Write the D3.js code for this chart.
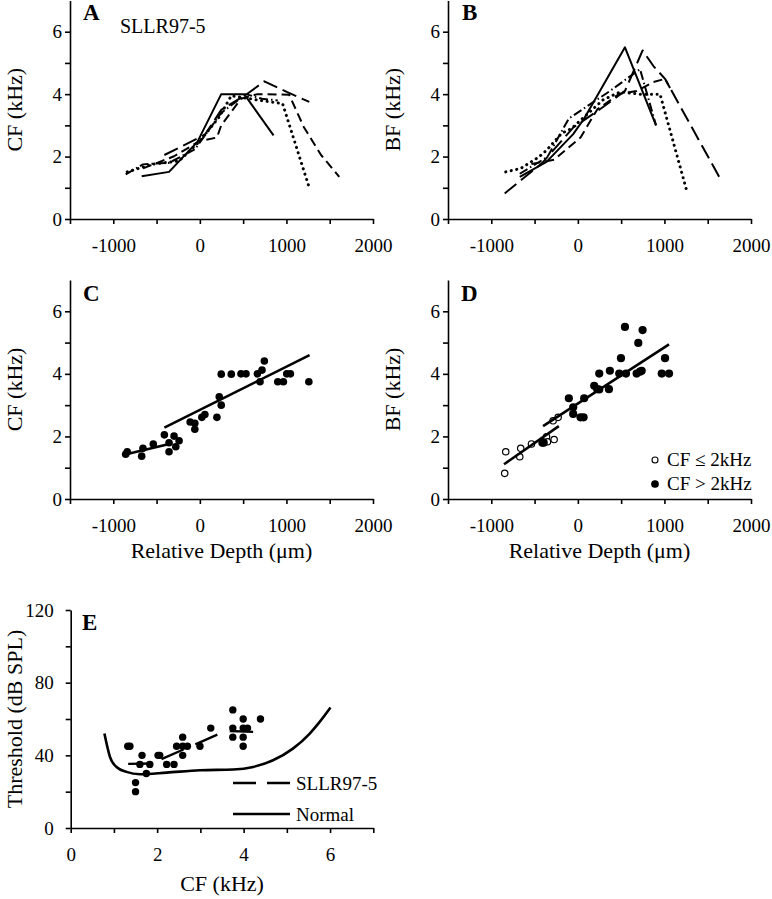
<!DOCTYPE html>
<html><head><meta charset="utf-8">
<script src="https://cdn.jsdelivr.net/npm/d3@7"></script>
<style>
body{margin:0;background:#fff}
svg text{font-family:"Liberation Serif","Times New Roman",serif;fill:#000}
</style>
</head><body>
<svg id="chart" width="772" height="899"></svg>
<script>
// ---------------- DATA ----------------
const depthTicks = [-1500,-1000,-500,0,500,1000,1500,2000];
const depthLabels = [-1000,0,1000,2000];
const freqTicks = [0,1,2,3,4,5,6];
const freqLabels = [0,2,4,6];
const cfTicksE = [0,1,2,3,4,5,6,7];
const cfLabelsE = [0,2,4,6];
const thrTicksE = [0,20,40,60,80,100,120];
const thrLabelsE = [0,40,80,120];

// Panel A: CF vs relative depth, one line per penetration
const penA_solid   = [[-672,1.37],[-356,1.51],[-28,2.47],[247,4.0],[512,4.0],[851,2.68]];
const penA_dashL   = [[-410,2.05],[-112,2.46],[58,2.70],[247,3.5],[532,3.98],[745,4.41],[1004,4.07],[1264,3.75]];
const penA_dashM   = [[-657,1.62],[-298,2.01],[0,2.5],[197,2.61],[247,3.0],[475,3.85],[664,4.0],[1032,3.98],[1200,2.95],[1400,2.05],[1610,1.35]];
const penA_dot     = [[-839,1.51],[-538,1.76],[-240,1.86],[0,2.5],[224,3.27],[363,3.95],[695,3.8],[955,3.7],[1264,1.0]];
const penA_dashDot = [[-857,1.43],[-657,1.75],[-356,1.8],[-58,2.23],[247,3.4],[533,4.0],[718,3.85],[900,3.8]];

// Panel B: BF vs relative depth
const penB_solid   = [[-671,1.35],[-362,1.83],[-54,2.72],[73,3.22],[544,5.5],[903,3.0]];
const penB_dashL   = [[-845,0.82],[-633,1.3],[-410,1.8],[-54,2.93],[247,3.5],[544,4.1],[748,5.4],[873,4.9],[1007,4.49],[1663,1.2]];
const penB_dashM   = [[-536,1.76],[-274,1.9],[31,2.61],[224,3.51],[478,4.01],[679,4.1],[873,4.39],[1007,4.49],[1065,4.2]];
const penB_dot     = [[-833,1.51],[-660,1.62],[-448,1.99],[-362,2.2],[-189,2.74],[-73,2.9],[293,3.82],[486,4.07],[718,4.0],[949,4.0],[1258,0.9]];
const penB_dashDot = [[-671,1.45],[-351,1.99],[-104,3.22],[370,4.1],[718,4.8],[903,3.0]];

// Panel C: CF vs depth (all units)
const depthC = [-857,-839,-672,-657,-538,-410,-356,-356,-298,-278,-240,-112,-58,-58,23,58,197,224,247,247,363,475,533,664,695,718,745,900,965,1004,1046,1259];
const cfC    = [1.43,1.51,1.37,1.62,1.76,2.05,1.51,1.80,2.01,1.67,1.86,2.46,2.42,2.23,2.61,2.70,2.61,3.27,3.0,3.99,3.99,4.0,4.0,4.0,3.75,4.12,4.41,3.75,3.75,4.0,4.0,3.75];
const fitC_low  = [[-839,1.44],[-317,1.78]];
const fitC_high = [[-410,2.28],[1267,4.6]];

// Panel D: BF vs depth, split by CF
const depthD_low = [-845,-833,-660,-671,-536,-362,-351,-274,-286,-228];
const bfD_low    = [0.82,1.51,1.62,1.35,1.76,1.99,1.83,1.9,2.5,2.61];
const depthD_high = [-410,-395,-104,-54,-54,31,66,73,189,224,247,247,359,370,498,478,556,544,698,679,718,737,748,1007,969,1053];
const bfD_high    = [1.8,1.8,3.22,2.93,2.72,2.61,2.61,3.22,3.62,3.51,4.01,3.5,3.51,4.1,4.5,4.01,4.01,5.5,4.99,4.01,4.07,4.1,5.4,4.5,4.01,4.01];
const fitD_low  = [[-853,1.11],[-220,2.33]];
const fitD_high = [[-402,2.33],[1053,4.94]];
const legendD = ["CF \u2264 2kHz","CF > 2kHz"];

// Panel E: threshold vs CF
const cfE  = [1.32,1.37,1.5,1.5,1.65,1.6,1.83,1.75,2.02,2.06,2.22,2.39,2.59,2.59,2.59,2.45,2.7,2.99,3.24,3.75,3.75,3.75,3.99,3.99,3.99,3.99,4.09,4.39];
const thrE = [45,45,25,20,40,35,35,30,40,40,35,35,50,45,40,45,45,45,55,65,55,50,60,55,50,45,55,60];
const fitE_segments = [[[1.33,35.3],[1.91,35.5]],[[2.1,37.9],[3.45,52]],[[3.68,53.4],[4.22,52.9]]];
const normalCF  = [0.78,0.91,1.06,1.29,1.6,2.22,2.99,3.76,4.22,4.68,5.14,5.53,5.76,6.01];
const normalThr = [52,39,33.6,30.9,29.6,30.5,31.8,32.2,33.6,37.3,43.7,52,58.4,66.3];
const legendE = ["SLLR97-5","Normal"];

// ---------------- DRAW ----------------
const svg = d3.select("#chart");
const FONT = '"Liberation Serif","Times New Roman",serif';

function panel(cfg){
  const x = d3.scaleLinear(cfg.xDom, [cfg.left, cfg.right]);
  const y = d3.scaleLinear(cfg.yDom, [cfg.bottom, cfg.top]);
  const g = svg.append("g");
  const ax = d3.axisBottom(x).tickValues(cfg.xTicks).tickSize(5).tickPadding(15).tickSizeOuter(0)
    .tickFormat(d => cfg.xLabels.includes(d) ? String(d) : "");
  const ay = d3.axisLeft(y).tickValues(cfg.yTicks).tickSize(5).tickPadding(cfg.yPad).tickSizeOuter(0)
    .tickFormat(d => cfg.yLabels.includes(d) ? String(d) : "");
  const gx = g.append("g").attr("transform",`translate(0,${cfg.bottom})`).call(ax);
  const gy = g.append("g").attr("transform",`translate(${cfg.left},0)`).call(ay);
  [gx,gy].forEach(a=>{
    a.attr("font-family",FONT).attr("font-size",19);
    a.selectAll("path,line").attr("stroke","#000").attr("stroke-width",1.6);
  });
  if(cfg.yTitle){
    g.append("text").attr("transform",`translate(${cfg.yTitleX},${(cfg.top+cfg.bottom)/2}) rotate(-90)`)
      .attr("text-anchor","middle").attr("font-size",22).text(cfg.yTitle);
  }
  if(cfg.xTitle){
    g.append("text").attr("x",(cfg.left+cfg.right)/2).attr("y",cfg.xTitleY)
      .attr("text-anchor","middle").attr("font-size",22).text(cfg.xTitle);
  }
  g.append("text").attr("x",cfg.letterX).attr("y",cfg.letterY).attr("font-weight","bold")
    .attr("font-size",23).text(cfg.letter);
  return {x,y,g};
}

const depthCfg = {xDom:[-1500,2000], yDom:[0,7], xTicks:depthTicks, xLabels:depthLabels, yTicks:freqTicks, yLabels:freqLabels, yPad:3};

const A = panel({...depthCfg, left:70, right:373, top:0.5, bottom:219, yTitle:"CF (kHz)", yTitleX:22, letter:"A", letterX:83, letterY:20});
const B = panel({...depthCfg, left:448, right:751, top:0.5, bottom:219, yTitle:"BF (kHz)", yTitleX:400, letter:"B", letterX:462, letterY:20});
const C = panel({...depthCfg, left:70, right:373, top:280, bottom:499, yTitle:"CF (kHz)", yTitleX:22, xTitle:"Relative Depth (\u03bcm)", xTitleY:558, letter:"C", letterX:83, letterY:301});
const D = panel({...depthCfg, left:448, right:751, top:280, bottom:499, yTitle:"BF (kHz)", yTitleX:400, xTitle:"Relative Depth (\u03bcm)", xTitleY:558, letter:"D", letterX:461, letterY:301});
const E = panel({xDom:[0,7], yDom:[0,120], xTicks:cfTicksE, xLabels:cfLabelsE, yTicks:thrTicksE, yLabels:thrLabelsE, yPad:12,
  left:70.7, right:373.3, top:610, bottom:828, yTitle:"Threshold (dB SPL)", yTitleX:22, xTitle:"CF (kHz)", xTitleY:891, letter:"E", letterX:82, letterY:630});

A.g.append("text").attr("x",120).attr("y",33).attr("font-size",20).text("SLLR97-5");

const styles = {
  solid:{dash:null, w:2, cap:"butt"},
  dashL:{dash:"15,6", w:2, cap:"butt"},
  dashM:{dash:"9,5", w:2, cap:"butt"},
  dot:{dash:"0.1,5.5", w:3, cap:"round"},
  dashDot:{dash:"9,3,1.5,3", w:2, cap:"butt"}
};
function drawLine(P, pts, st, curve){
  const line = d3.line().x(d=>P.x(d[0])).y(d=>P.y(d[1]));
  if(curve) line.curve(curve);
  P.g.append("path").datum(pts).attr("d",line).attr("fill","none").attr("stroke","#000")
    .attr("stroke-width",st.w).attr("stroke-linecap",st.cap).attr("stroke-linejoin","round")
    .attr("stroke-dasharray",st.dash);
}
drawLine(A, penA_solid, styles.solid);
drawLine(A, penA_dashL, styles.dashL);
drawLine(A, penA_dashM, styles.dashM);
drawLine(A, penA_dot, styles.dot);
drawLine(A, penA_dashDot, styles.dashDot);

drawLine(B, penB_solid, styles.solid);
drawLine(B, penB_dashL, styles.dashL);
drawLine(B, penB_dashM, styles.dashM);
drawLine(B, penB_dot, styles.dot);
drawLine(B, penB_dashDot, styles.dashDot);

// Panel C
C.g.selectAll("circle.c").data(d3.zip(depthC,cfC)).join("circle")
  .attr("cx",d=>C.x(d[0])).attr("cy",d=>C.y(d[1])).attr("r",3.8).attr("fill","#000");
const fitStyle = {dash:null, w:2.6, cap:"butt"};
drawLine(C, fitC_low, fitStyle);
drawLine(C, fitC_high, fitStyle);

// Panel D
D.g.selectAll("circle.lo").data(d3.zip(depthD_low,bfD_low)).join("circle")
  .attr("cx",d=>D.x(d[0])).attr("cy",d=>D.y(d[1])).attr("r",3.2).attr("fill","#fff").attr("stroke","#000").attr("stroke-width",1.2);
D.g.selectAll("circle.hi").data(d3.zip(depthD_high,bfD_high)).join("circle")
  .attr("cx",d=>D.x(d[0])).attr("cy",d=>D.y(d[1])).attr("r",4.1).attr("fill","#000");
drawLine(D, fitD_low, fitStyle);
drawLine(D, fitD_high, fitStyle);
const lg = D.g.append("g");
legendD.forEach((t,i)=>{
  const yy = 460 + i*24;
  lg.append("circle").attr("cx",655).attr("cy",yy).attr("r",i===0?3:3.3)
    .attr("fill",i===0?"#fff":"#000").attr("stroke","#000").attr("stroke-width",1.1);
  lg.append("text").attr("x",667).attr("y",yy+6).attr("font-size",19).text(t);
});

// Panel E
drawLine(E, d3.zip(normalCF,normalThr), {dash:null,w:2.6,cap:"butt"}, d3.curveMonotoneX);
fitE_segments.forEach(s=>drawLine(E, s, {dash:"24,13",w:2.4,cap:"butt"}));
E.g.selectAll("circle.e").data(d3.zip(cfE,thrE)).join("circle")
  .attr("cx",d=>E.x(d[0])).attr("cy",d=>E.y(d[1])).attr("r",3.7).attr("fill","#000");
const le = E.g.append("g");
legendE.forEach((t,i)=>{
  const yy = 783 + i*31;
  le.append("line").attr("x1",233).attr("x2",290).attr("y1",yy).attr("y2",yy).attr("stroke","#000")
    .attr("stroke-width",2.4).attr("stroke-dasharray",i===0?"23,11":null);
  le.append("text").attr("x",296).attr("y",yy+7).attr("font-size",19).text(t);
});
</script>
</body></html>
